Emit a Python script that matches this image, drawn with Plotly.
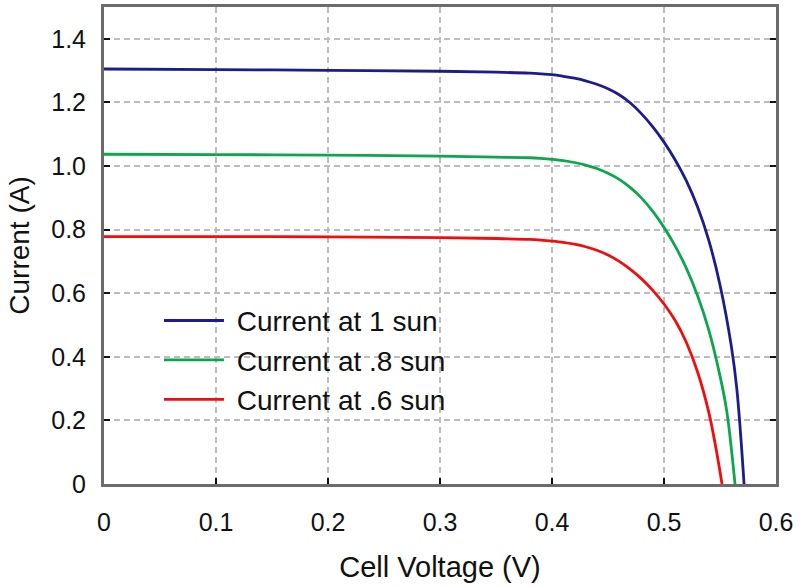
import plotly.graph_objects as go

# ---- data ----
v_1sun = [0, 0.1, 0.2, 0.3, 0.35, 0.38, 0.39, 0.40, 0.41, 0.42, 0.43, 0.44, 0.45, 0.46, 0.47, 0.48,
          0.49, 0.50, 0.51, 0.52, 0.53, 0.54, 0.55, 0.56, 0.565, 0.5715]
i_1sun = [1.305, 1.303, 1.301, 1.298, 1.295, 1.292, 1.290, 1.287, 1.282, 1.276, 1.268, 1.257, 1.243, 1.224, 1.198, 1.164,
          1.123, 1.075, 1.019, 0.953, 0.871, 0.766, 0.626, 0.436, 0.30, 0.0]

v_08sun = [0, 0.1, 0.2, 0.3, 0.35, 0.38, 0.39, 0.40, 0.41, 0.42, 0.43, 0.44, 0.45, 0.46, 0.47, 0.48,
           0.49, 0.50, 0.51, 0.52, 0.53, 0.54, 0.55, 0.556, 0.5634]
i_08sun = [1.037, 1.036, 1.034, 1.031, 1.028, 1.026, 1.024, 1.021, 1.017, 1.011, 1.003, 0.992, 0.977, 0.958, 0.932, 0.899,
           0.857, 0.807, 0.748, 0.678, 0.592, 0.484, 0.340, 0.23, 0.0]

v_06sun = [0, 0.1, 0.2, 0.3, 0.35, 0.38, 0.39, 0.40, 0.41, 0.42, 0.43, 0.44, 0.45, 0.46, 0.47, 0.48,
           0.49, 0.50, 0.51, 0.52, 0.53, 0.54, 0.546, 0.5518]
i_06sun = [0.778, 0.778, 0.777, 0.775, 0.772, 0.769, 0.767, 0.764, 0.760, 0.754, 0.746, 0.735, 0.720, 0.700, 0.675, 0.645,
           0.609, 0.566, 0.514, 0.445, 0.352, 0.225, 0.12, 0.0]

series_names = ["Current at 1 sun", "Current at .8 sun", "Current at .6 sun"]
series_colors = ["#1c1c8e", "#0ca64c", "#f20d0d"]

x_tickvals = [0, 0.1, 0.2, 0.3, 0.4, 0.5, 0.6]
x_ticktext = ["0", "0.1", "0.2", "0.3", "0.4", "0.5", "0.6"]
y_tickvals = [0, 0.2, 0.4, 0.6, 0.8, 1.0, 1.2, 1.4]
y_ticktext = ["0", "0.2", "0.4", "0.6", "0.8", "1.0", "1.2", "1.4"]

FONT = "Liberation Sans, Arial, sans-serif"

fig = go.Figure()
for v, i, name, col in zip([v_1sun, v_08sun, v_06sun], [i_1sun, i_08sun, i_06sun],
                           series_names, series_colors):
    fig.add_trace(go.Scatter(x=v, y=i, mode="lines", name="\u00a0" + name,
                             line=dict(color=col, width=2.8, shape="spline", smoothing=1.0)))

axis_common = dict(
    showline=True, linecolor="#6b6b6b", linewidth=3, mirror=True,
    ticks="inside", ticklen=6, tickwidth=2, tickcolor="#111111",
    showgrid=True, gridcolor="#bdbdbd", gridwidth=2, griddash="6px,4px",
    zeroline=False, tickfont=dict(family=FONT, size=25, color="#111111"),
)

fig.update_xaxes(range=[0, 0.6], tickvals=x_tickvals, ticktext=x_ticktext,
                 title=dict(text="Cell Voltage (V)", font=dict(family=FONT, size=29, color="#111111"), standoff=22),
                 ticklabelstandoff=14, **axis_common)
fig.update_yaxes(range=[0, 1.5], tickvals=y_tickvals, ticktext=y_ticktext,
                 title=dict(text="Current (A)", font=dict(family=FONT, size=28, color="#111111"), standoff=14),
                 ticklabelstandoff=10, **axis_common)
fig.update_yaxes(mirror="ticks")

fig.update_layout(
    width=800, height=587,
    margin=dict(l=104, r=24, t=4, b=103),
    paper_bgcolor="white", plot_bgcolor="white",
    font=dict(family=FONT, color="#111111"),
    legend=dict(x=0.0818, y=0.3946, xanchor="left", yanchor="top",
                bgcolor="rgba(0,0,0,0)", font=dict(family=FONT, size=28, color="#111111"),
                itemwidth=60, tracegroupgap=0),
    showlegend=True,
)

fig.write_html("out.html")
